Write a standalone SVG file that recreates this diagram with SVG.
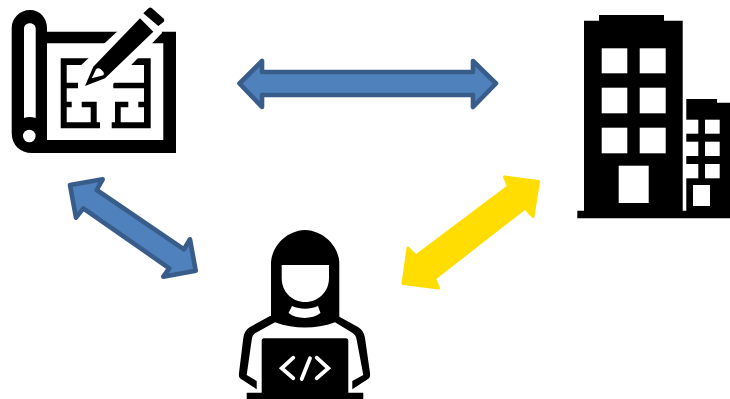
<svg xmlns="http://www.w3.org/2000/svg" width="730" height="399" viewBox="0 0 730 399">
<style>
.k{fill:#000}
.w{fill:#fff}
.blue{fill:#4f81bd;stroke:#385d8a;stroke-width:4.6;stroke-linejoin:round}
.yellow{fill:#ffdd00;stroke:#ffdd00;stroke-width:3;stroke-linejoin:round}
.code{fill:none;stroke:#fff;stroke-width:3.8;stroke-linecap:round;stroke-linejoin:miter}
</style>
<rect width="730" height="399" fill="#fff"/>
<g id="connectors">
<path class="blue" d="M239.500 83.500L262 61V72H473V61L496 83.500L473 107V95H262V107Z"/>
<path class="blue" d="M70 185L102.700 179.300L96.700 190L184 249.300L190 239.300L195.700 270.700L163.300 276.700L169.300 268.300L83.300 208.300L76 217.700Z"/>
<path class="yellow" d="M504.500 177L538.500 181.500L533 216.500L525 208L434.500 278.500L438.500 288L403 283.500L408 248L416 256L508.500 186.500Z"/>
</g>
<g id="blueprint">
<path class="k" d="M30 10C40 10 47 18 47 28V31.700H176V153H32C20 153 11.700 145 11.700 133V28C11.700 18 20 10 30 10Z"/>
<path class="w" d="M47 43.300H163.300V140H47Z"/>
<path class="w" d="M24 29C24 25.500 26.500 23.300 29.800 23.300C33.200 23.300 35.700 25.500 35.700 29V118C32 116.500 27.500 116.500 24 118Z"/>
<circle class="w" cx="29.300" cy="136" r="6.300"/>
<path class="k" d="M60.700 58.300H150.700V128.300H111.700V122.300H115V101.700H128.300V107.300H120.700V122.300H144V107.300H138.300V101.700H144V88.300H113.300V82.700H144V65H128V58.300H90V65H66.700V82.700H78.300V88.300H66.700V101.700H71.700V107.300H66.700V122.300H90.700V107.300H81.700V101.700H96.700V122.300H100V128.300H60.700Z"/>
<path class="w" d="M136 14L78 68V91H90L113 84L162 33L160 25Z"/>
<path class="k" d="M93.300 66.700L140 18.300L153.300 31.700L105 78.300L85 86Z"/>
<path class="k" d="M143.300 13.300L148.500 8.300C149.500 7.300 151 7.300 152 8.300L163.500 18.500C164.500 19.500 164.500 21 163.500 22L158.300 26Z"/>
<path class="w" d="M91.700 78.300L96 69.500C97 68 99 68 100.500 69L103 71.500C104.500 73 104 75 102.500 75.500Z"/>
</g>
<g id="building">
<path class="k" d="M584 20.700H599V15H664V20.700H682.700V210.700H686.300V99H717V102.700H730V218.300H577.300V210.700H584Z"/>
<rect class="w" x="601.700" y="48.300" width="25.600" height="25"/>
<rect class="w" x="639.700" y="48.300" width="26" height="25"/>
<rect class="w" x="601.700" y="87.700" width="25.600" height="25.600"/>
<rect class="w" x="639.700" y="87.700" width="26" height="25.600"/>
<rect class="w" x="601.700" y="127.700" width="25.600" height="25.600"/>
<rect class="w" x="639.700" y="127.700" width="26" height="25.600"/>
<rect class="w" x="618.700" y="165.700" width="30" height="37.300"/>
<rect class="w" x="686" y="119.700" width="12.300" height="14"/>
<rect class="w" x="705" y="119.700" width="14.700" height="14"/>
<rect class="w" x="686" y="141.700" width="12.300" height="14.300"/>
<rect class="w" x="705" y="141.700" width="14.700" height="14.300"/>
<rect class="w" x="686" y="164" width="12.300" height="14.300"/>
<rect class="w" x="705" y="164" width="14.700" height="14.300"/>
<rect class="w" x="693" y="185" width="17" height="21"/>
</g>
<g id="developer">
<path class="k" d="M271 318V262C272 248 284 231 305 230C326 231 338.300 248 339.300 262V318Z"/>
<path class="k" d="M270 316L250 327C246 329.500 244 333 243.300 338L239 373C238.700 376 239 377.500 241 379L256.700 389.300V381L246.700 375L251.700 340C252 337 253 335 255 333.300L275 322.300C285 326 295 327.500 305 327.500C315 327.500 325 326 335 322.300L353 333.300C355 335 356.400 337 356.700 340L363.300 375L352.300 381V389.300L368 379C370 377.500 370.300 376 370 373L365 338C364.300 333 362 329.500 358 327L338 316Z"/>
<path class="w" d="M281.700 265H329V278C329 292 318 302 305.300 302C292 302 281.700 292 281.700 278Z"/>
<path class="w" d="M292 306C300 309.500 310 309.500 318 306L320.500 313C312 319.500 297 319.500 288.500 313Z"/>
<path class="k" d="M264 338.300H346C347.500 338.300 348.300 339.300 348.300 340.800V392.700H363.300V399H246.700V392.700H261.700V340.800C261.700 339.300 262.500 338.300 264 338.300Z"/>
<path class="code" d="M293.300 357.700L281.700 368.300L293.300 378.300M310 358.300L301.700 379M316.700 357.700L328.300 368.300L316.700 378.300"/>
</g>
</svg>
